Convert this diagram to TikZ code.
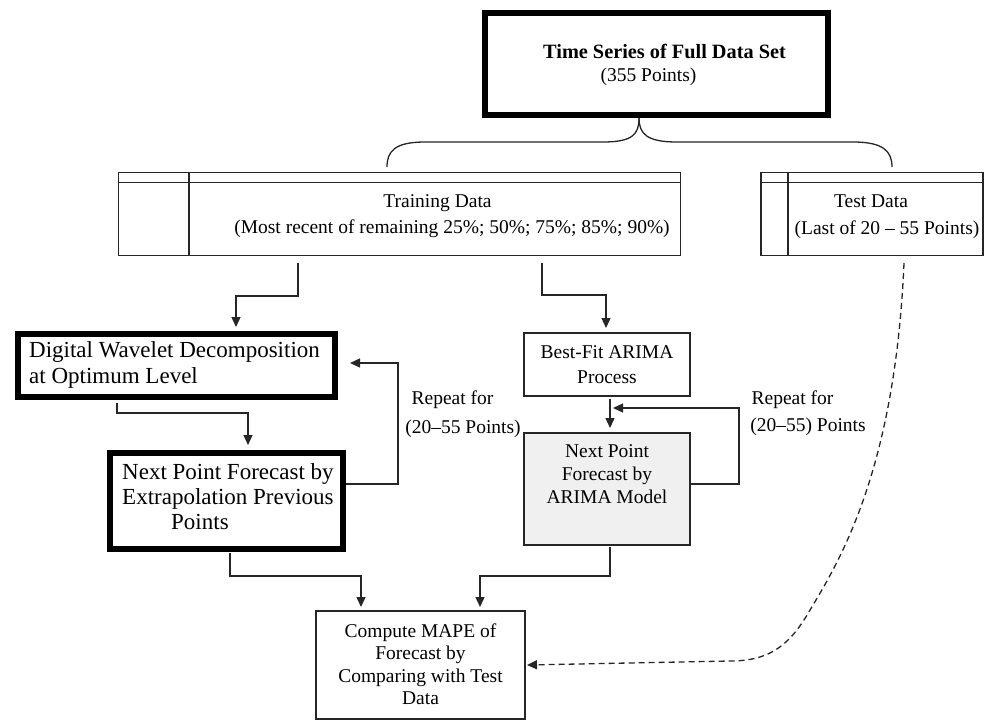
\documentclass[tikz,border=0pt]{standalone}
\usepackage{fontspec}
\setmainfont{Liberation Serif}
\usetikzlibrary{arrows.meta,calc}
\begin{document}
\begin{tikzpicture}[x=1pt,y=-1pt,
  line/.style={draw=black!85,line width=1.3pt},
  arr/.style={line,-{Triangle[length=10pt,width=9pt]}},
  dasharr/.style={line,dash pattern=on 6pt off 4pt,-{Triangle[length=10pt,width=9pt]}},
  box/.style={draw=black!85,line width=1.3pt,inner sep=0pt,outer sep=0pt},
  thickbox/.style={draw=black,line width=6pt,inner sep=0pt,outer sep=0pt},
  txt/.style={inner sep=0pt,anchor=base,font=\fontsize{19.5}{24}\selectfont},
  btxt/.style={inner sep=0pt,anchor=base west,font=\fontsize{23}{26}\selectfont},
  ]
\useasboundingbox (0,0) rectangle (984,720);
\fill[white] (0,0) rectangle (984,720);

% boxes
\node[thickbox,minimum width=343pt,minimum height=102pt] (ts) at (656.5,64) {};
\node[box,minimum width=562pt,minimum height=83pt] (train) at (399.5,214) {};
\node[box,minimum width=222pt,minimum height=83pt] (test) at (872,214) {};
\node[thickbox,minimum width=317pt,minimum height=63pt] (wav) at (176.5,365.5) {};
\node[thickbox,minimum width=233pt,minimum height=96pt] (next) at (226.5,501) {};
\node[box,minimum width=166pt,minimum height=63pt] (best) at (607,364.5) {};
\node[box,fill=black!6,minimum width=166pt,minimum height=112pt] (arima) at (607,489) {};
\node[box,minimum width=209pt,minimum height=108pt] (mape) at (420.5,665) {};

% inner lines of the storage boxes
\draw[line] ($(train.north west)+(0,10)$) -- ($(train.north east)+(0,10)$);
\draw[line] ($(train.north west)+(70.5,0)$) -- ($(train.south west)+(70.5,0)$);
\draw[line] ($(test.north west)+(0,10)$) -- ($(test.north east)+(0,10)$);
\draw[line] ($(test.north west)+(27,0)$) -- ($(test.south west)+(27,0)$);

% texts
\node[txt,font=\bfseries\fontsize{20.3}{24}\selectfont] (t1) at (664.5,58.7) {Time Series of Full Data Set};
\node[txt] (t2) at (648.5,81.5) {(355 Points)};
\node[txt] (t3) at (437.5,207.5) {Training Data};
\node[txt] (t4) at (452,233.5) {(Most recent of remaining 25\%; 50\%; 75\%; 85\%; 90\%)};
\node[txt] (t5) at (871,207.5) {Test Data};
\node[txt] (t6) at (887,234.5) {(Last of 20 – 55 Points)};
\node[btxt] (t7) at (29,357.6) {Digital Wavelet Decomposition};
\node[btxt] (t8) at (29,383.6) {at Optimum Level};
\node[btxt] (t9) at (122,479.6) {Next Point Forecast by};
\node[btxt] (t10) at (122,504.6) {Extrapolation Previous};
\node[btxt] (t11) at (171,529.6) {Points};
\node[txt] (t12) at (452.5,404.5) {Repeat for};
\node[txt] (t13) at (463,433.5) {(20–55 Points)};
\node[txt] (t14) at (607,358.5) {Best-Fit ARIMA};
\node[txt] (t15) at (607,383.5) {Process};
\node[txt] (t16) at (792.5,404.5) {Repeat for};
\node[txt] (t17) at (808,431.5) {(20–55) Points};
\node[txt] (t18) at (607,457.5) {Next Point};
\node[txt] (t19) at (607,480.5) {Forecast by};
\node[txt] (t20) at (607,503.5) {ARIMA Model};
\node[txt] (t21) at (420.5,637.5) {Compute MAPE of};
\node[txt] (t22) at (420.5,659.5) {Forecast by};
\node[txt] (t23) at (420.5,682.5) {Comparing with Test};
\node[txt] (t24) at (420.5,704.5) {Data};

% brace
\coordinate (bl) at (387,167);
\coordinate (br) at (892,167);
\draw[line] ($(ts.south)+(-17.5,3)$) .. controls +(0,16) and +(30,0) .. (603,142) -- (425,142) .. controls +(-30,0) and +(0,-16) .. (bl);
\draw[line] ($(ts.south)+(-17.5,3)$) .. controls +(0,16) and +(-30,0) .. (677,142) -- (853,142) .. controls +(30,0) and +(0,-16) .. (br);

% connectors
\draw[arr] ($(train.south west)+(179.5,7.5)$) -- ++(0,33) -| ($(wav.north west)+(218,-7)$);
\draw[arr] ($(train.south west)+(423.5,7.5)$) -- ++(0,32) -| ($(best.north west)+(82,-5)$);
\draw[arr] ($(wav.south west)+(99,6)$) -- ++(0,10) -| ($(next.north west)+(138,-8)$);
\draw[arr] ($(next.east)+(3,-17)$) -- ++(52,0) |- ($(wav.east)+(15,-2.5)$);
\draw[arr] ($(best.south)+(3,3)$) -- ($(arima.north)+(3,-5)$);
\draw[arr] ($(arima.east)+(0,-5)$) -- ++(49,0) |- ($(arima.north)+(6,-25)$);
\draw[arr] ($(next.south west)+(120,4)$) -- ++(0,23) -| ($(mape.north west)+(45,-4)$);
\draw[arr] ($(arima.south)+(3,2)$) -- ++(0,29) -| ($(mape.north west)+(164,-4)$);
\draw[dasharr] ($(test.south)+(32,7.5)$) .. controls (895,470) and (840,560) .. (810,610)
  .. controls (790,645) and (770,661) .. (730,661) -- ($(mape.east)+(2,0)$);
\end{tikzpicture}
\end{document}
